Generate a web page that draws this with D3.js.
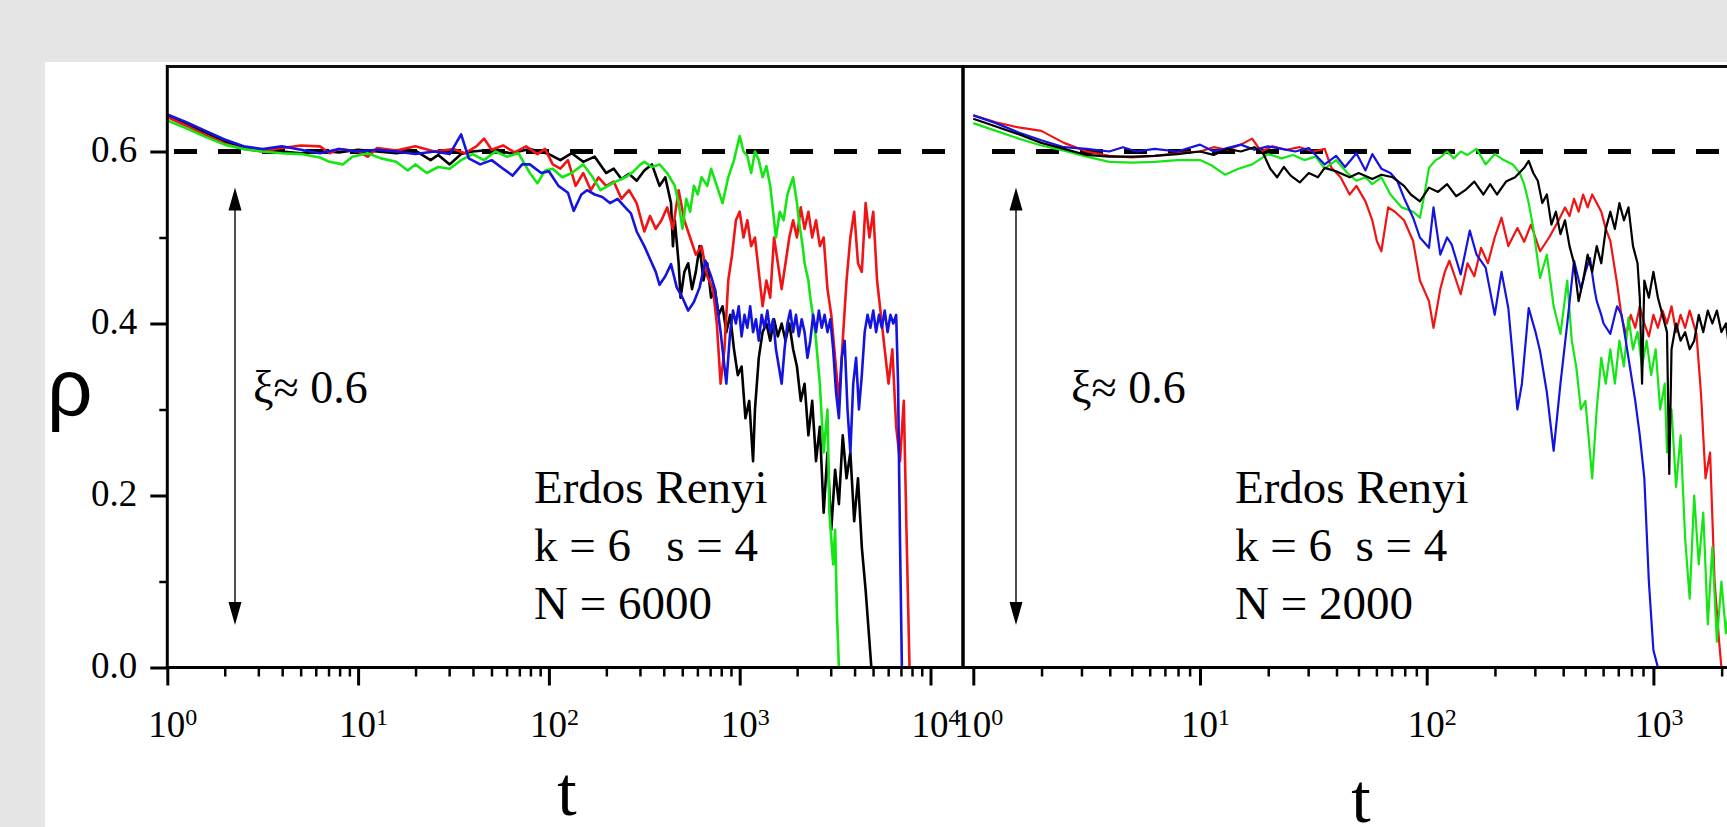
<!DOCTYPE html>
<html lang="en">
<head>
<meta charset="utf-8" />
<title>Density vs time, Erdos Renyi</title>
<script src="https://d3js.org/d3.v7.min.js"></script>
<style>
    body { margin: 0; background: #e5e5e5; }
    svg { display: block; }
    .serif { font-family: "Liberation Serif", "Times New Roman", serif; fill: #000; }
    .axis path, .axis line { stroke: #000; }
</style>
</head>
<body>
<svg width="1727" height="827"></svg>
<script>
// every series is a list of [log10 t, rho]
const leftBlack = [[0,.641],[0.1,.632],[0.2,.622],[0.3,.612],[0.4,.604],[0.5,.601],[0.6,.6],[0.7,.598],[0.8,.601],[0.9,.599],[1.0,.602],[1.1,.6],[1.2,.598],[1.3,.601],[1.38,.59],[1.42,.596],[1.48,.585],[1.54,.597],[1.6,.6],[1.7,.602],[1.8,.598],[1.9,.603],[2.0,.597],[2.06,.59],[2.12,.598],[2.18,.588],[2.24,.594],[2.3,.575],[2.34,.58],[2.38,.568],[2.42,.574],[2.46,.566],[2.5,.578],[2.54,.585],[2.58,.56],[2.61,.57],[2.64,.54],[2.65,.49],[2.66,.52],[2.68,.47],[2.69,.43],[2.71,.46],[2.73,.47],[2.75,.44],[2.77,.46],[2.79,.49],[2.81,.45],[2.83,.47],[2.85,.43],[2.87,.44],[2.89,.41],[2.91,.42],[2.93,.39],[2.95,.41],[2.97,.37],[2.99,.34],[3.01,.35],[3.03,.29],[3.05,.31],[3.07,.24],[3.08,.3],[3.1,.36],[3.12,.39],[3.14,.40],[3.16,.38],[3.18,.405],[3.2,.385],[3.22,.40],[3.24,.38],[3.26,.40],[3.28,.37],[3.3,.35],[3.32,.31],[3.34,.33],[3.36,.27],[3.38,.31],[3.4,.24],[3.42,.28],[3.44,.18],[3.46,.25],[3.48,.16],[3.5,.23],[3.52,.19],[3.54,.27],[3.56,.22],[3.58,.25],[3.6,.17],[3.62,.22],[3.64,.14],[3.66,.09],[3.68,.03],[3.69,0],[4.0,0]];
const leftRed = [[0,.64],[0.1,.63],[0.2,.619],[0.3,.609],[0.4,.603],[0.5,.6],[0.6,.604],[0.7,.607],[0.8,.606],[0.85,.598],[0.9,.603],[1.0,.6],[1.05,.594],[1.1,.604],[1.2,.601],[1.3,.606],[1.4,.6],[1.5,.603],[1.56,.598],[1.62,.606],[1.66,.615],[1.7,.602],[1.76,.607],[1.82,.599],[1.88,.606],[1.94,.597],[1.98,.603],[2.02,.585],[2.06,.58],[2.1,.59],[2.14,.56],[2.18,.575],[2.22,.555],[2.26,.57],[2.3,.56],[2.34,.565],[2.38,.545],[2.42,.555],[2.46,.54],[2.5,.507],[2.53,.525],[2.56,.51],[2.59,.52],[2.62,.535],[2.65,.51],[2.68,.555],[2.71,.52],[2.74,.50],[2.77,.48],[2.8,.49],[2.83,.455],[2.86,.44],[2.88,.40],[2.9,.33],[2.92,.37],[2.94,.45],[2.96,.48],[2.98,.52],[3.0,.53],[3.02,.5],[3.04,.52],[3.06,.49],[3.08,.5],[3.1,.46],[3.12,.42],[3.14,.45],[3.16,.43],[3.18,.50],[3.2,.47],[3.22,.44],[3.24,.47],[3.26,.5],[3.28,.52],[3.3,.5],[3.32,.535],[3.34,.51],[3.36,.53],[3.38,.50],[3.4,.52],[3.42,.49],[3.44,.5],[3.46,.44],[3.48,.41],[3.5,.36],[3.52,.31],[3.54,.38],[3.56,.45],[3.58,.5],[3.6,.53],[3.62,.47],[3.64,.46],[3.66,.54],[3.68,.50],[3.7,.53],[3.72,.45],[3.74,.41],[3.76,.37],[3.78,.33],[3.8,.37],[3.82,.28],[3.84,.24],[3.86,.31],[3.875,.15],[3.89,0],[4.0,0]];
const leftGreen = [[0,.636],[0.1,.627],[0.2,.617],[0.3,.608],[0.4,.603],[0.5,.6],[0.6,.598],[0.7,.597],[0.8,.593],[0.85,.588],[0.92,.585],[0.97,.594],[1.05,.598],[1.12,.592],[1.2,.588],[1.26,.578],[1.3,.585],[1.36,.575],[1.42,.582],[1.48,.58],[1.54,.59],[1.6,.597],[1.66,.59],[1.72,.6],[1.78,.594],[1.84,.598],[1.9,.575],[1.94,.563],[1.98,.578],[2.02,.58],[2.07,.57],[2.12,.575],[2.18,.585],[2.23,.57],[2.27,.555],[2.31,.56],[2.35,.565],[2.4,.57],[2.44,.576],[2.48,.585],[2.5,.588],[2.54,.582],[2.58,.585],[2.62,.575],[2.66,.56],[2.68,.54],[2.7,.51],[2.72,.545],[2.74,.53],[2.76,.56],[2.78,.55],[2.8,.57],[2.83,.56],[2.85,.58],[2.88,.56],[2.91,.54],[2.94,.57],[2.97,.59],[3.0,.618],[3.02,.6],[3.04,.595],[3.06,.575],[3.08,.6],[3.1,.59],[3.12,.57],[3.14,.583],[3.16,.56],[3.17,.54],[3.19,.50],[3.21,.53],[3.23,.52],[3.25,.55],[3.28,.57],[3.3,.54],[3.31,.52],[3.33,.49],[3.34,.47],[3.36,.45],[3.37,.43],[3.39,.40],[3.4,.38],[3.42,.33],[3.44,.25],[3.46,.3],[3.47,.18],[3.49,.12],[3.5,.16],[3.51,.06],[3.52,0],[4.0,0]];
const leftBlue = [[0,.643],[0.1,.634],[0.2,.624],[0.3,.614],[0.4,.606],[0.5,.603],[0.6,.606],[0.7,.602],[0.8,.598],[0.9,.603],[1.0,.6],[1.1,.602],[1.2,.6],[1.3,.597],[1.4,.6],[1.48,.597],[1.54,.62],[1.58,.592],[1.64,.585],[1.7,.59],[1.76,.58],[1.81,.572],[1.86,.585],[1.9,.585],[1.96,.575],[2.0,.577],[2.05,.56],[2.1,.552],[2.13,.531],[2.17,.55],[2.2,.555],[2.24,.55],[2.28,.547],[2.32,.54],[2.36,.545],[2.4,.535],[2.43,.528],[2.46,.507],[2.5,.49],[2.53,.475],[2.56,.46],[2.58,.445],[2.61,.455],[2.64,.469],[2.67,.442],[2.7,.43],[2.73,.415],[2.76,.425],[2.79,.442],[2.82,.473],[2.85,.455],[2.87,.44],[2.9,.39],[2.93,.33],[2.95,.39],[2.965,.415],[2.98,.40],[2.995,.42],[3.01,.385],[3.025,.41],[3.04,.395],[3.055,.42],[3.07,.39],[3.085,.405],[3.1,.38],[3.115,.41],[3.13,.395],[3.145,.415],[3.16,.39],[3.175,.405],[3.19,.37],[3.205,.35],[3.22,.33],[3.235,.37],[3.25,.40],[3.265,.415],[3.28,.39],[3.295,.41],[3.31,.385],[3.325,.405],[3.34,.39],[3.355,.36],[3.37,.38],[3.385,.41],[3.4,.39],[3.415,.415],[3.43,.395],[3.445,.41],[3.46,.39],[3.475,.405],[3.49,.37],[3.505,.32],[3.52,.29],[3.535,.36],[3.55,.38],[3.565,.3],[3.58,.25],[3.595,.33],[3.61,.36],[3.625,.3],[3.64,.34],[3.655,.39],[3.67,.41],[3.685,.395],[3.7,.415],[3.715,.39],[3.73,.41],[3.745,.395],[3.76,.415],[3.775,.39],[3.79,.41],[3.805,.4],[3.82,.41],[3.83,.33],[3.84,.15],[3.85,0],[4.0,0]];

const rightBlack = [[0,.638],[0.1,.629],[0.2,.62],[0.3,.61],[0.4,.603],[0.5,.596],[0.6,.594],[0.7,.594],[0.8,.595],[0.9,.597],[1.0,.6],[1.06,.596],[1.12,.603],[1.18,.6],[1.24,.605],[1.28,.597],[1.31,.58],[1.34,.57],[1.37,.582],[1.4,.572],[1.44,.564],[1.48,.575],[1.52,.57],[1.55,.581],[1.6,.577],[1.66,.57],[1.7,.575],[1.76,.568],[1.8,.573],[1.85,.57],[1.9,.56],[1.93,.55],[1.97,.542],[2.01,.558],[2.05,.553],[2.09,.562],[2.13,.548],[2.17,.555],[2.21,.565],[2.25,.55],[2.28,.562],[2.31,.55],[2.35,.565],[2.39,.57],[2.43,.581],[2.45,.589],[2.47,.575],[2.49,.566],[2.51,.54],[2.53,.55],[2.55,.515],[2.57,.53],[2.59,.504],[2.61,.52],[2.63,.49],[2.65,.47],[2.67,.426],[2.69,.45],[2.71,.48],[2.73,.46],[2.75,.49],[2.77,.47],[2.79,.51],[2.81,.53],[2.83,.51],[2.85,.54],[2.87,.52],[2.89,.535],[2.91,.49],[2.93,.47],[2.94,.43],[2.95,.33],[2.96,.45],[2.98,.43],[3.0,.46],[3.02,.43],[3.04,.41],[3.06,.39],[3.07,.225],[3.08,.37],[3.1,.40],[3.12,.38],[3.14,.39],[3.16,.37],[3.18,.38],[3.2,.41],[3.22,.39],[3.24,.415],[3.26,.4],[3.28,.415],[3.3,.39],[3.32,.4],[3.33,.38],[3.34,.3]];
const rightRed = [[0,.642],[0.1,.634],[0.2,.628],[0.3,.624],[0.4,.61],[0.5,.6],[0.6,.595],[0.7,.593],[0.8,.595],[0.9,.598],[1.0,.6],[1.06,.605],[1.12,.602],[1.18,.608],[1.23,.615],[1.27,.6],[1.32,.606],[1.38,.602],[1.44,.605],[1.5,.6],[1.55,.603],[1.58,.581],[1.62,.57],[1.66,.55],[1.69,.56],[1.73,.542],[1.76,.52],[1.78,.496],[1.8,.484],[1.83,.535],[1.86,.53],[1.9,.52],[1.94,.496],[1.97,.45],[2.01,.426],[2.03,.395],[2.06,.44],[2.08,.46],[2.1,.473],[2.13,.45],[2.15,.434],[2.18,.47],[2.21,.455],[2.24,.488],[2.27,.47],[2.3,.5],[2.33,.523],[2.36,.49],[2.4,.511],[2.43,.495],[2.46,.515],[2.5,.484],[2.54,.5],[2.58,.519],[2.61,.535],[2.63,.525],[2.65,.545],[2.67,.53],[2.69,.55],[2.71,.535],[2.73,.55],[2.75,.54],[2.77,.53],[2.79,.51],[2.81,.496],[2.84,.446],[2.86,.407],[2.88,.387],[2.9,.41],[2.92,.395],[2.94,.42],[2.96,.40],[2.98,.385],[3.0,.41],[3.02,.395],[3.04,.415],[3.06,.40],[3.08,.42],[3.1,.39],[3.12,.41],[3.14,.395],[3.16,.415],[3.19,.388],[3.21,.318],[3.23,.22],[3.25,.25],[3.27,.1],[3.29,.03],[3.3,0],[3.34,0]];
const rightGreen = [[0,.633],[0.1,.624],[0.2,.615],[0.3,.607],[0.4,.601],[0.5,.594],[0.6,.588],[0.7,.587],[0.8,.588],[0.9,.59],[1.0,.59],[1.05,.584],[1.11,.573],[1.17,.58],[1.23,.585],[1.3,.597],[1.36,.592],[1.41,.596],[1.46,.59],[1.51,.594],[1.55,.58],[1.6,.59],[1.65,.575],[1.69,.566],[1.73,.57],[1.76,.562],[1.8,.57],[1.84,.55],[1.89,.535],[1.94,.53],[1.97,.523],[1.99,.55],[2.01,.581],[2.04,.59],[2.06,.593],[2.09,.6],[2.12,.592],[2.15,.6],[2.18,.596],[2.22,.603],[2.26,.585],[2.3,.597],[2.34,.59],[2.38,.585],[2.41,.575],[2.43,.562],[2.45,.54],[2.47,.511],[2.5,.453],[2.53,.48],[2.56,.42],[2.59,.388],[2.62,.45],[2.64,.38],[2.66,.349],[2.68,.3],[2.7,.31],[2.72,.25],[2.73,.22],[2.75,.3],[2.77,.36],[2.79,.33],[2.81,.37],[2.83,.33],[2.85,.38],[2.87,.35],[2.89,.407],[2.91,.37],[2.93,.39],[2.95,.35],[2.97,.38],[2.99,.34],[3.01,.37],[3.03,.30],[3.05,.33],[3.06,.25],[3.08,.3],[3.1,.21],[3.12,.27],[3.14,.15],[3.16,.08],[3.18,.2],[3.2,.12],[3.22,.18],[3.24,.05],[3.26,.14],[3.28,.03],[3.3,.1],[3.32,.04],[3.34,.08]];
const rightBlue = [[0,.642],[0.1,.633],[0.2,.622],[0.3,.613],[0.4,.605],[0.5,.603],[0.6,.6],[0.66,.605],[0.72,.6],[0.8,.603],[0.9,.6],[1.0,.608],[1.06,.6],[1.12,.604],[1.18,.608],[1.24,.602],[1.3,.606],[1.36,.603],[1.42,.6],[1.48,.604],[1.55,.585],[1.6,.595],[1.64,.582],[1.69,.598],[1.73,.578],[1.76,.597],[1.8,.58],[1.84,.575],[1.87,.566],[1.9,.546],[1.94,.523],[1.97,.5],[2.01,.488],[2.03,.535],[2.06,.48],[2.09,.5],[2.11,.492],[2.15,.457],[2.19,.508],[2.22,.48],[2.26,.465],[2.3,.41],[2.33,.46],[2.36,.418],[2.38,.36],[2.4,.3],[2.42,.33],[2.45,.418],[2.48,.39],[2.5,.368],[2.53,.32],[2.56,.252],[2.59,.33],[2.62,.4],[2.65,.473],[2.68,.44],[2.7,.46],[2.72,.476],[2.74,.44],[2.75,.426],[2.77,.41],[2.78,.40],[2.81,.388],[2.83,.41],[2.84,.42],[2.86,.41],[2.89,.36],[2.92,.31],[2.94,.27],[2.96,.22],[2.98,.1],[3.0,.02],[3.02,0],[3.34,0]];

const yMajor = [0, 0.2, 0.4, 0.6];
const yMinor = [0.1, 0.3, 0.5];
const xiLevel = 0.6;
const arrowSpan = [0.0495, 0.558];

const panels = [
    {
        decades: [0, 1, 2, 3, 4], minorUpTo: 4,
        range: [167.3, 930.5], frame: [167.3, 963],
        series: [[leftBlack, "#000"], [leftRed, "#f01414"], [leftGreen, "#14e614"], [leftBlue, "#1414e0"]],
        width: 2.6, arrowX: 235, xiX: 253, dashFrom: 174, dashTo: 963,
        text: ["Erdos Renyi", "k = 6   s = 4", "N = 6000"], textX: 534,
        tX: 567, tY: 815
    },
    {
        decades: [0, 1, 2, 3], minorUpTo: 4,
        range: [973.3, 1653.4], frame: [963, 1727],
        series: [[rightRed, "#f01414"], [rightGreen, "#14e614"], [rightBlue, "#1414e0"], [rightBlack, "#000"]],
        width: 2.2, arrowX: 1016, xiX: 1071, dashFrom: 992, dashTo: 1727,
        text: ["Erdos Renyi", "k = 6  s = 4", "N = 2000"], textX: 1235,
        tX: 1361, tY: 822
    }
];

const svg = d3.select("svg");

svg.append("rect")
    .attr("x", 45).attr("y", 62)
    .attr("width", 1727 - 45).attr("height", 827 - 62)
    .attr("fill", "#fff");

const y = d3.scaleLinear().domain([0, 0.7]).range([667.5, 65.5]);

panels.forEach((p, i) => {
    const last = p.decades[p.decades.length - 1];
    const x = d3.scaleLog()
        .domain([1, Math.pow(10, last)])
        .range(p.range);

    // minor ticks 2..9 per decade
    const minor = [];
    for (let d = 0; d < p.minorUpTo; d++) {
        for (let k = 2; k <= 9; k++) {
            const v = k * Math.pow(10, d);
            if (x(v) < p.frame[1] - 2) minor.push(v);
        }
    }

    const g = svg.append("g");

    // frame top edge
    g.append("line")
        .attr("x1", p.frame[0]).attr("x2", p.frame[1])
        .attr("y1", y(0.7) + 1).attr("y2", y(0.7) + 1)
        .attr("stroke", "#111").attr("stroke-width", 3);

    // xi level dashed line
    g.append("line")
        .attr("x1", p.dashFrom).attr("x2", p.dashTo)
        .attr("y1", y(xiLevel)).attr("y2", y(xiLevel))
        .attr("stroke", "#000").attr("stroke-width", 5)
        .attr("stroke-dasharray", "23,21");

    // series
    const line = d3.line()
        .x(d => x(Math.pow(10, d[0])))
        .y(d => y(d[1]));

    p.series.forEach(([data, color]) => {
        g.append("path")
            .datum(data)
            .attr("d", line)
            .attr("fill", "none")
            .attr("stroke", color)
            .attr("stroke-width", p.width)
            .attr("stroke-linejoin", "round");
    });

    // x axis
    g.append("g")
        .attr("class", "axis")
        .attr("transform", `translate(0,${y(0)})`)
        .call(d3.axisBottom(x).tickValues(p.decades.map(d => Math.pow(10, d)))
            .tickSize(18).tickSizeOuter(0).tickFormat(""))
        .call(a => a.select(".domain").remove())
        .call(a => a.selectAll("line").attr("stroke-width", 3));

    g.append("g")
        .attr("class", "axis")
        .attr("transform", `translate(0,${y(0)})`)
        .call(d3.axisBottom(x).tickValues(minor).tickSize(9).tickSizeOuter(0).tickFormat(""))
        .call(a => a.select(".domain").remove())
        .call(a => a.selectAll("line").attr("stroke-width", 2.5));

    g.append("line")
        .attr("x1", p.frame[0] - 1.5).attr("x2", p.frame[1])
        .attr("y1", y(0)).attr("y2", y(0))
        .attr("stroke", "#000").attr("stroke-width", 3);

    // decade labels 10^n
    const lab = g.selectAll("text.xl")
        .data(p.decades)
        .join("text")
        .attr("class", "serif xl")
        .attr("x", d => x(Math.pow(10, d)) - 19)
        .attr("y", 737)
        .style("font-size", "37px");
    lab.append("tspan").text("10");
    lab.append("tspan").attr("dy", -12).style("font-size", "24px").text(d => d);

    // left vertical edge of panel
    g.append("line")
        .attr("x1", p.frame[0]).attr("x2", p.frame[0])
        .attr("y1", y(0) + 1.5).attr("y2", y(0.7) - 0.5)
        .attr("stroke", "#000").attr("stroke-width", 3);

    if (i === 0) {
        g.append("g")
            .attr("class", "axis serif")
            .attr("transform", `translate(${p.frame[0]},0)`)
            .call(d3.axisLeft(y).tickValues(yMajor).tickSize(17).tickPadding(13)
                .tickFormat(d3.format(".1f")))
            .call(a => a.select(".domain").remove())
            .call(a => a.selectAll("line").attr("stroke-width", 3))
            .call(a => a.selectAll("text")
                .attr("dy", "0.28em")
                .style("font-family", "'Liberation Serif', serif")
                .style("font-size", "37px"));

        g.append("g")
            .attr("class", "axis")
            .attr("transform", `translate(${p.frame[0]},0)`)
            .call(d3.axisLeft(y).tickValues(yMinor).tickSize(8).tickFormat(""))
            .call(a => a.select(".domain").remove())
            .call(a => a.selectAll("line").attr("stroke-width", 2.5));

        // right edge of left panel
        g.append("line")
            .attr("x1", p.frame[1]).attr("x2", p.frame[1])
            .attr("y1", y(0)).attr("y2", y(0.7))
            .attr("stroke", "#000").attr("stroke-width", 3);
    }

    // double arrow for xi
    const yTop = y(arrowSpan[1]), yBot = y(arrowSpan[0]);
    g.append("line")
        .attr("x1", p.arrowX).attr("x2", p.arrowX)
        .attr("y1", yTop + 15).attr("y2", yBot - 15)
        .attr("stroke", "#222").attr("stroke-width", 1.6);
    g.append("path")
        .attr("d", `M${p.arrowX},${yTop} L${p.arrowX - 6.5},${yTop + 23} L${p.arrowX + 6.5},${yTop + 23} Z` +
                   `M${p.arrowX},${yBot} L${p.arrowX - 6.5},${yBot - 23} L${p.arrowX + 6.5},${yBot - 23} Z`)
        .attr("fill", "#000");

    g.append("text")
        .attr("class", "serif")
        .attr("x", p.xiX).attr("y", 403)
        .style("font-size", "46px")
        .text("ξ≈ 0.6");

    g.selectAll("text.note")
        .data(p.text)
        .join("text")
        .attr("class", "serif note")
        .attr("xml:space", "preserve")
        .style("white-space", "pre")
        .attr("x", p.textX)
        .attr("y", (d, j) => 503 + j * 58)
        .style("font-size", "47px")
        .text(d => d);

    g.append("text")
        .attr("class", "serif")
        .attr("x", p.tX).attr("y", p.tY)
        .attr("text-anchor", "middle")
        .style("font-size", "70px")
        .text("t");
});

svg.append("text")
    .attr("x", 47).attr("y", 415)
    .style("font-family", "'Liberation Sans', Arial, sans-serif")
    .style("font-size", "80px")
    .text("ρ");
</script>
</body>
</html>
